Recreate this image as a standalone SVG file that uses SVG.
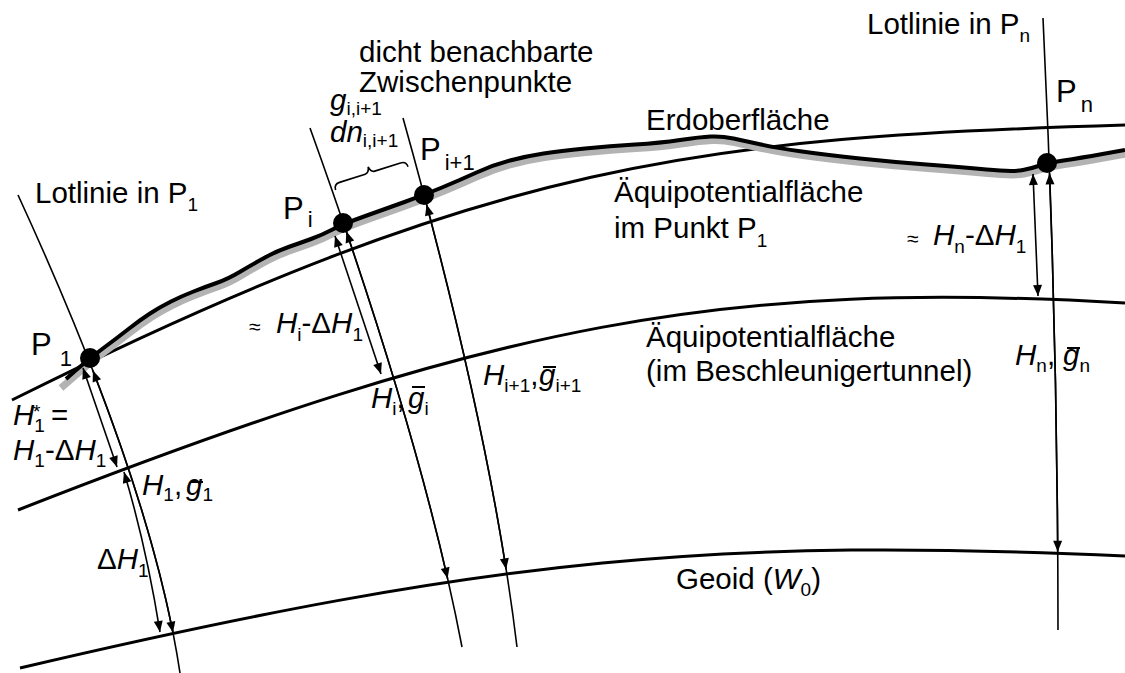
<svg xmlns="http://www.w3.org/2000/svg" width="1125" height="673" viewBox="0 0 1125 673">
<style>
.t{font-family:"Liberation Sans",Arial,sans-serif;font-size:29.5px;fill:#000}
.i{font-style:italic}
.s{font-size:19px}
.pl{font-size:31px}
.ps{font-size:22px}
.ax{font-size:21px}
.thin{fill:none;stroke:#000;stroke-width:1.6}
.arr{fill:none;stroke:#000;stroke-width:1.6;marker-start:url(#ah);marker-end:url(#ah)}
.surf{fill:none;stroke:#000;stroke-width:3}
.bar{stroke:#000;stroke-width:2}
.dot{fill:#000}
</style>
<defs>
<marker id="ah" viewBox="-12 -6 12 12" refX="0" refY="0" markerWidth="12" markerHeight="12" markerUnits="userSpaceOnUse" orient="auto-start-reverse">
<path d="M0,0 L-11,-4.5 L-11,4.5 Z" fill="#000"/>
</marker>
</defs>
<rect width="1125" height="673" fill="#fff"/>

<g id="surfaces">
<path id="geoid" class="surf" d="M20,668 C500,555.2 725,538 1125,556"/>
<path id="equi-tunnel" class="surf" d="M18,510 C498,322 725,280 1125,303"/>
<path id="equi-p1" class="surf" d="M12,400 C492,160 705,137.6 1125,125"/>
<g id="erdoberflaeche">
<path transform="translate(1,4)" fill="none" stroke="#b3b3b3" stroke-width="7" d="M60,384 L75,371 Q90,358 103.5,348 Q117,338 128.5,329 Q140,320 150,313.5 Q160,307 171,301.5 Q182,296 193.5,291.5 Q205,287 216.5,283 Q228,279 240.5,271.5 Q253,264 265,257.5 Q277,251 288.5,247 Q300,243 311,239 Q322,235 332.5,229.5 Q343,224 364,216.5 Q385,209 404.5,202 Q424,195 442,187.5 Q460,180 476.5,172.5 Q493,165 510,160.5 Q527,156 543.5,153.5 Q560,151 585,148.5 Q610,146 635,144.5 Q660,143 680,140 Q700,137 711,136.5 Q722,136 733.5,138.5 Q745,141 761,144.5 Q777,148 802,151.5 Q827,155 860,158.5 Q893,162 926.5,164.5 Q960,167 986.5,169.5 Q1013,172 1023,170 Q1033,168 1040,165.5 Q1047,163 1063.5,160.5 Q1080,158 1102.5,154 L1125,150"/>
<path fill="none" stroke="#000" stroke-width="4" d="M66,379 L75,371 Q90,358 103.5,348 Q117,338 128.5,329 Q140,320 150,313.5 Q160,307 171,301.5 Q182,296 193.5,291.5 Q205,287 216.5,283 Q228,279 240.5,271.5 Q253,264 265,257.5 Q277,251 288.5,247 Q300,243 311,239 Q322,235 332.5,229.5 Q343,224 364,216.5 Q385,209 404.5,202 Q424,195 442,187.5 Q460,180 476.5,172.5 Q493,165 510,160.5 Q527,156 543.5,153.5 Q560,151 585,148.5 Q610,146 635,144.5 Q660,143 680,140 Q700,137 711,136.5 Q722,136 733.5,138.5 Q745,141 761,144.5 Q777,148 802,151.5 Q827,155 860,158.5 Q893,162 926.5,164.5 Q960,167 986.5,169.5 Q1013,172 1023,170 Q1033,168 1040,165.5 Q1047,163 1063.5,160.5 Q1080,158 1102.5,154 L1125,150"/>
</g>
</g>

<g id="connectors">
<path id="lot-p1" class="thin" d="M18,195 Q152,486 180,673"/>
<path id="lot-pi" class="thin" d="M310,128 Q423,442 462,647"/>
<path id="lot-pi1" class="thin" d="M403,118 Q491.5,434 517,647"/>
<path id="lot-pn" class="thin" d="M1043,18 Q1058,330 1058,630"/>
<path id="arr-h1" class="arr" d="M92.9,370.6 Q150.5,518.7 173,632.6"/>
<path id="arr-h1star" class="arr" d="M83,368 L117,467"/>
<path id="arr-dh1" class="arr" d="M124,472 Q146,545 160,632"/>
<path id="arr-hi" class="arr" d="M346.4,231.6 Q413.6,429.6 447.6,578.6"/>
<path id="arr-hi-dh" class="arr" d="M335,236 L381,374"/>
<path id="arr-hi1" class="arr" d="M426.6,204.5 Q481.2,411.1 506.1,569.3"/>
<path id="arr-hn" class="arr" d="M1049.6,173.3 Q1056.5,364.8 1057.7,551.7"/>
<path id="arr-hn-dh" class="arr" d="M1033,174 L1038,296"/>
<path id="brace" class="thin" stroke-width="2" transform="translate(335,188) rotate(-17.7)" d="M0,2 Q0,-4 6,-4 L33,-4 Q37,-4 38,-10 Q39,-4 43,-4 L70,-4 Q76,-4 76,2"/>
</g>

<g id="node-p1">
<circle class="dot" cx="90" cy="358" r="10"/>
<text class="t pl" x="31" y="355">P<tspan class="ps" dx="8" dy="11">1</tspan></text>
</g>
<g id="node-pi">
<circle class="dot" cx="343" cy="223" r="10"/>
<text class="t pl" x="283" y="219">P<tspan class="ps" dx="4" dy="8">i</tspan></text>
</g>
<g id="node-pi1">
<circle class="dot" cx="424" cy="195" r="10"/>
<text class="t pl" x="420" y="160">P<tspan class="ps" dx="4" dy="10">i+1</tspan></text>
</g>
<g id="node-pn">
<circle class="dot" cx="1047" cy="163" r="10"/>
<text class="t pl" x="1056" y="102">P<tspan class="ps" dx="4" dy="10">n</tspan></text>
</g>

<g id="labels">
<text class="t" x="35" y="203">Lotlinie in P<tspan class="s" dy="8">1</tspan></text>
<text class="t" x="867" y="34">Lotlinie in P<tspan class="s" dy="8">n</tspan></text>
<text class="t" x="359" y="62">dicht benachbarte</text>
<text class="t" x="359" y="92">Zwischenpunkte</text>
<text class="t" x="330" y="110"><tspan class="i">g</tspan><tspan class="s" dy="5">i,i+1</tspan></text>
<text class="t" x="330" y="142"><tspan class="i">dn</tspan><tspan class="s" dy="5">i,i+1</tspan></text>
<text class="t" x="646" y="130">Erdoberfläche</text>
<text class="t" x="614" y="202">Äquipotentialfläche</text>
<text class="t" x="614" y="238">im Punkt P<tspan class="s" dy="9">1</tspan></text>
<text class="t" x="646" y="347">Äquipotentialfläche</text>
<text class="t" x="646" y="381">(im Beschleunigertunnel)</text>
<text class="t" x="907" y="246"><tspan class="ax">≈</tspan><tspan class="i" x="933" dy="-1">H</tspan><tspan class="s" dy="8">n</tspan><tspan dy="-8">-Δ</tspan><tspan class="i">H</tspan><tspan class="s" dy="8">1</tspan></text>
<text class="t" x="249" y="334"><tspan class="ax">≈</tspan><tspan class="i" x="276" dy="-1">H</tspan><tspan class="s" dy="8">i</tspan><tspan dy="-8">-Δ</tspan><tspan class="i">H</tspan><tspan class="s" dy="8">1</tspan></text>
<text class="t" x="371" y="408"><tspan class="i">H</tspan><tspan class="s" dy="7">i</tspan><tspan dy="-7">,</tspan><tspan class="i" x="408">g</tspan><tspan class="s" dy="7">i</tspan></text>
<line class="bar" x1="412" y1="387" x2="425" y2="387"/>
<text class="t" x="483" y="385"><tspan class="i">H</tspan><tspan class="s" dy="7">i+1</tspan><tspan dy="-7">,</tspan><tspan class="i" x="539">g</tspan><tspan class="s" dy="7">i+1</tspan></text>
<line class="bar" x1="543" y1="367" x2="556" y2="367"/>
<text class="t" x="1015" y="365"><tspan class="i">H</tspan><tspan class="s" dy="7">n</tspan><tspan dy="-7">,</tspan><tspan class="i" x="1063">g</tspan><tspan class="s" dy="7">n</tspan></text>
<line class="bar" x1="1067" y1="348" x2="1080" y2="348"/>
<text class="t" x="13" y="425"><tspan class="i">H</tspan><tspan class="s" dy="7">1</tspan><tspan class="s" x="33" dy="-14">*</tspan><tspan x="51" dy="7">=</tspan></text>
<text class="t" x="13" y="460"><tspan class="i">H</tspan><tspan class="s" dy="7">1</tspan><tspan dy="-7">-Δ</tspan><tspan class="i">H</tspan><tspan class="s" dy="7">1</tspan></text>
<text class="t" x="142" y="495"><tspan class="i">H</tspan><tspan class="s" dy="6">1</tspan><tspan dy="-6">,</tspan><tspan class="i" x="186">g</tspan><tspan class="s" dy="6">1</tspan></text>
<line class="bar" x1="190" y1="482" x2="203" y2="482"/>
<text class="t" x="97" y="569">Δ<tspan class="i">H</tspan><tspan class="s" dy="8">1</tspan></text>
<text class="t" x="676" y="589">Geoid (<tspan class="i">W</tspan><tspan class="s" dy="7">0</tspan><tspan dy="-7">)</tspan></text>
</g>
</svg>
